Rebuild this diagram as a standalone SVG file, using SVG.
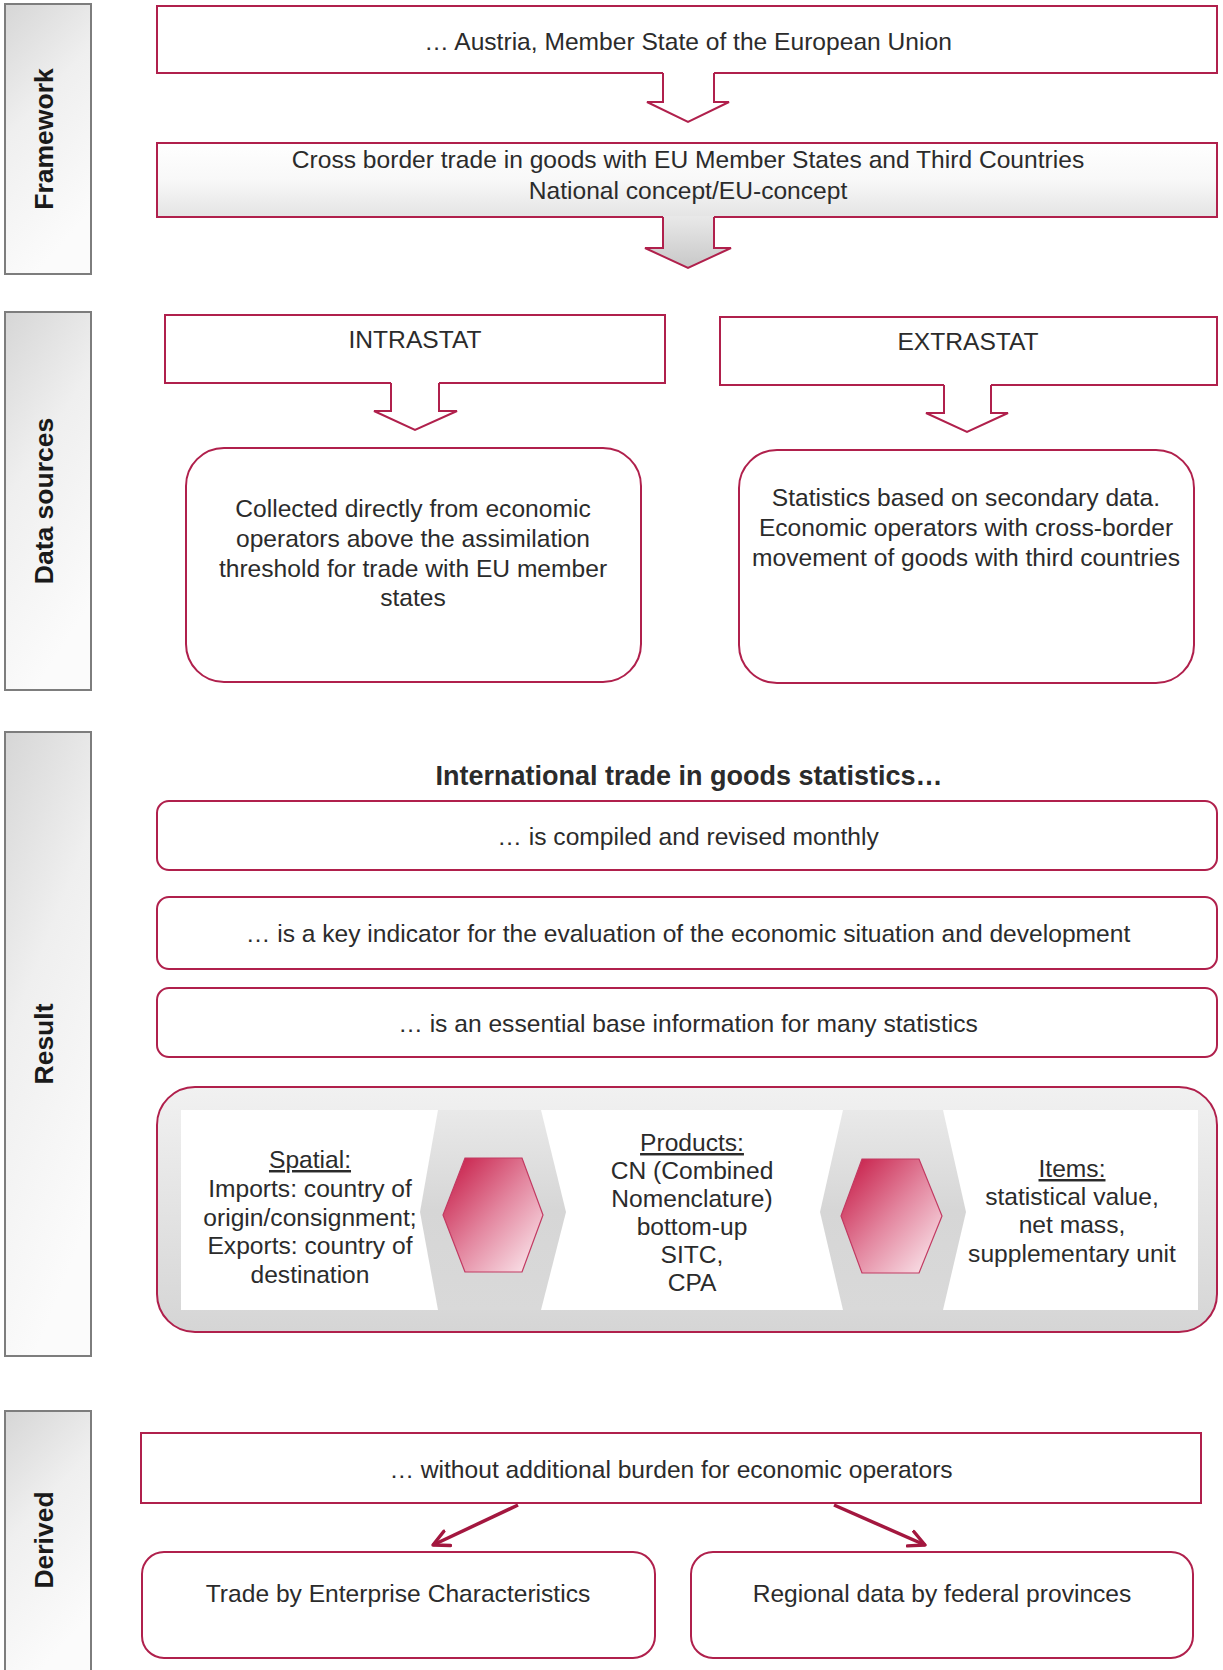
<svg xmlns="http://www.w3.org/2000/svg" width="1223" height="1670" viewBox="0 0 1223 1670">
<defs>
<linearGradient id="gLabel" x1="0" y1="0" x2="0.35" y2="1">
<stop offset="0" stop-color="#d6d6d6"/><stop offset="0.45" stop-color="#efefef"/><stop offset="1" stop-color="#fbfbfb"/>
</linearGradient>
<linearGradient id="gBox2" x1="0" y1="0" x2="0" y2="1">
<stop offset="0" stop-color="#ffffff"/><stop offset="0.5" stop-color="#f8f8f8"/><stop offset="1" stop-color="#e4e4e4"/>
</linearGradient>
<linearGradient id="gArrow" gradientUnits="userSpaceOnUse" x1="0" y1="217" x2="0" y2="268">
<stop offset="0" stop-color="#e8e8e8"/><stop offset="1" stop-color="#c8c8c8"/>
</linearGradient>
<linearGradient id="gPanel" x1="0" y1="0" x2="0" y2="1">
<stop offset="0" stop-color="#f1f1f1"/><stop offset="1" stop-color="#d5d5d5"/>
</linearGradient>
<linearGradient id="gHexGray" x1="0" y1="0" x2="0" y2="1">
<stop offset="0" stop-color="#e9e9e9"/><stop offset="0.5" stop-color="#d6d6d6"/><stop offset="1" stop-color="#d9d9d9"/>
</linearGradient>
<linearGradient id="gHexRed" x1="0" y1="0" x2="1" y2="1">
<stop offset="0" stop-color="#c4123f"/><stop offset="0.5" stop-color="#e3869f"/><stop offset="1" stop-color="#fdf2f5"/>
</linearGradient>
<marker id="arr" viewBox="0 0 14 14" refX="12" refY="7" markerWidth="20" markerHeight="20" markerUnits="userSpaceOnUse" orient="auto">
<path d="M1,1.5 L12,7 L1,12.5" fill="none" stroke="#a3173f" stroke-width="2.4" stroke-linecap="round" stroke-linejoin="round"/>
</marker>
<style>
.lbl{fill:url(#gLabel);stroke:#7d7d7d;stroke-width:2}
.lt{font-family:"Liberation Sans",Arial,sans-serif;font-weight:bold;font-size:26.5px;fill:#1a1a1a;text-anchor:middle}
.box{fill:#ffffff;stroke:#b0204c;stroke-width:2}
.t{font-family:"Liberation Sans",Arial,sans-serif;font-size:24.6px;fill:#2b2b2b;text-anchor:middle}
.u{text-decoration:underline}
.ol{fill:none;stroke:#b0204c;stroke-width:2;stroke-linejoin:miter}
.conn{fill:none;stroke:#a3173f;stroke-width:3.5;marker-end:url(#arr)}
.wp{fill:#ffffff}
.gh{fill:url(#gHexGray)}
.rh{fill:url(#gHexRed);stroke:#c23a62;stroke-width:1.2}
</style>
</defs>

<g id="label-framework"><rect class="lbl" x="5" y="4" width="86" height="270"/><text class="lt" transform="translate(53,139) rotate(-90)">Framework</text></g>
<g id="label-datasources"><rect class="lbl" x="5" y="312" width="86" height="378"/><text class="lt" transform="translate(53,501) rotate(-90)">Data sources</text></g>
<g id="label-result"><rect class="lbl" x="5" y="732" width="86" height="624"/><text class="lt" transform="translate(53,1044) rotate(-90)">Result</text></g>
<g id="label-derived"><rect class="lbl" x="5" y="1411" width="86" height="265"/><text class="lt" transform="translate(53,1540) rotate(-90)">Derived</text></g>

<g id="austria"><rect class="box" x="157" y="6" width="1060" height="67"/><text class="t" x="688" y="50">… Austria, Member State of the European Union</text></g>
<g id="crossborder"><rect class="box" x="157" y="143" width="1060" height="74" style="fill:url(#gBox2)"/><text class="t" x="688" y="168">Cross border trade in goods with EU Member States and Third Countries</text><text class="t" x="688" y="199">National concept/EU-concept</text></g>

<g id="intrastat"><rect class="box" x="165" y="315" width="500" height="68"/><text class="t" x="415" y="348">INTRASTAT</text></g>
<g id="intrastat-desc"><rect class="box" x="186" y="448" width="455" height="234" rx="38"/><text class="t" x="413" y="517">Collected directly from economic</text><text class="t" x="413" y="547">operators above the assimilation</text><text class="t" x="413" y="577">threshold for trade with EU member</text><text class="t" x="413" y="606">states</text></g>
<g id="extrastat"><rect class="box" x="720" y="317" width="497" height="68"/><text class="t" x="968" y="350">EXTRASTAT</text></g>
<g id="extrastat-desc"><rect class="box" x="739" y="450" width="455" height="233" rx="38"/><text class="t" x="966" y="506">Statistics based on secondary data.</text><text class="t" x="966" y="536">Economic operators with cross-border</text><text class="t" x="966" y="566">movement of goods with third countries</text></g>

<g id="result-title"><text class="t" x="689" y="785" style="font-weight:bold;font-size:27px">International trade in goods statistics…</text></g>
<g id="res1"><rect class="box" x="157" y="801" width="1060" height="69" rx="12"/><text class="t" x="688" y="845">… is compiled and revised monthly</text></g>
<g id="res2"><rect class="box" x="157" y="897" width="1060" height="72" rx="12"/><text class="t" x="688" y="942">… is a key indicator for the evaluation of the economic situation and development</text></g>
<g id="res3"><rect class="box" x="157" y="988" width="1060" height="69" rx="12"/><text class="t" x="688" y="1032">… is an essential base information for many statistics</text></g>

<g id="dimensions">
<rect class="box" x="157" y="1087" width="1060" height="245" rx="38" style="fill:url(#gPanel)"/>
<rect class="wp" x="181" y="1110" width="258" height="200"/>
<rect class="wp" x="541" y="1110" width="302" height="200"/>
<rect class="wp" x="943" y="1110" width="255" height="200"/>
<polygon class="gh" points="438,1110 541,1110 566,1212 541,1310 438,1310 420,1212"/>
<polygon class="gh" points="843,1110 943,1110 966,1212 943,1310 843,1310 820,1212"/>
<polygon class="rh" points="465,1158 522,1158 543,1215 522,1272 465,1272 443,1215"/>
<polygon class="rh" points="862,1159 919,1159 942,1216 919,1273 862,1273 841,1216"/>
<text class="t"><tspan class="u" x="310" y="1168">Spatial:</tspan><tspan x="310" y="1197">Imports: country of</tspan><tspan x="310" y="1226">origin/consignment;</tspan><tspan x="310" y="1254">Exports: country of</tspan><tspan x="310" y="1283">destination</tspan></text>
<text class="t"><tspan class="u" x="692" y="1151">Products:</tspan><tspan x="692" y="1179">CN (Combined</tspan><tspan x="692" y="1207">Nomenclature)</tspan><tspan x="692" y="1235">bottom-up</tspan><tspan x="692" y="1263">SITC,</tspan><tspan x="692" y="1291">CPA</tspan></text>
<text class="t"><tspan class="u" x="1072" y="1177">Items:</tspan><tspan x="1072" y="1205">statistical value,</tspan><tspan x="1072" y="1233">net mass,</tspan><tspan x="1072" y="1262">supplementary unit</tspan></text>
</g>

<g id="burden"><rect class="box" x="141" y="1433" width="1060" height="70"/><text class="t" x="671" y="1478">… without additional burden for economic operators</text></g>
<g id="enterprise"><rect class="box" x="142" y="1552" width="513" height="106" rx="22"/><text class="t" x="398" y="1602">Trade by Enterprise Characteristics</text></g>
<g id="regional"><rect class="box" x="691" y="1552" width="502" height="106" rx="22"/><text class="t" x="942" y="1602">Regional data by federal provinces</text></g>

<g id="connectors">
<path d="M663,72 V102 H647 L688,122 L729,102 H714 V72 Z" fill="#ffffff"/>
<path class="ol" d="M663,73 V102 H647 L688,122 L729,102 H714 V73"/>
<path d="M663,216 V248 H645 L688,268 L731,248 H714 V216 Z" fill="url(#gArrow)"/>
<path class="ol" d="M663,217 V248 H645 L688,268 L731,248 H714 V217"/>
<path d="M391,382 V411 H374 L415,430 L457,411 H439 V382 Z" fill="#ffffff"/>
<path class="ol" d="M391,383 V411 H374 L415,430 L457,411 H439 V383"/>
<path d="M944,384 V413 H926 L967,432 L1008,413 H991 V384 Z" fill="#ffffff"/>
<path class="ol" d="M944,385 V413 H926 L967,432 L1008,413 H991 V385"/>
<line class="conn" x1="518" y1="1505" x2="433" y2="1545"/>
<line class="conn" x1="834" y1="1505" x2="925" y2="1545"/>
</g>
</svg>
